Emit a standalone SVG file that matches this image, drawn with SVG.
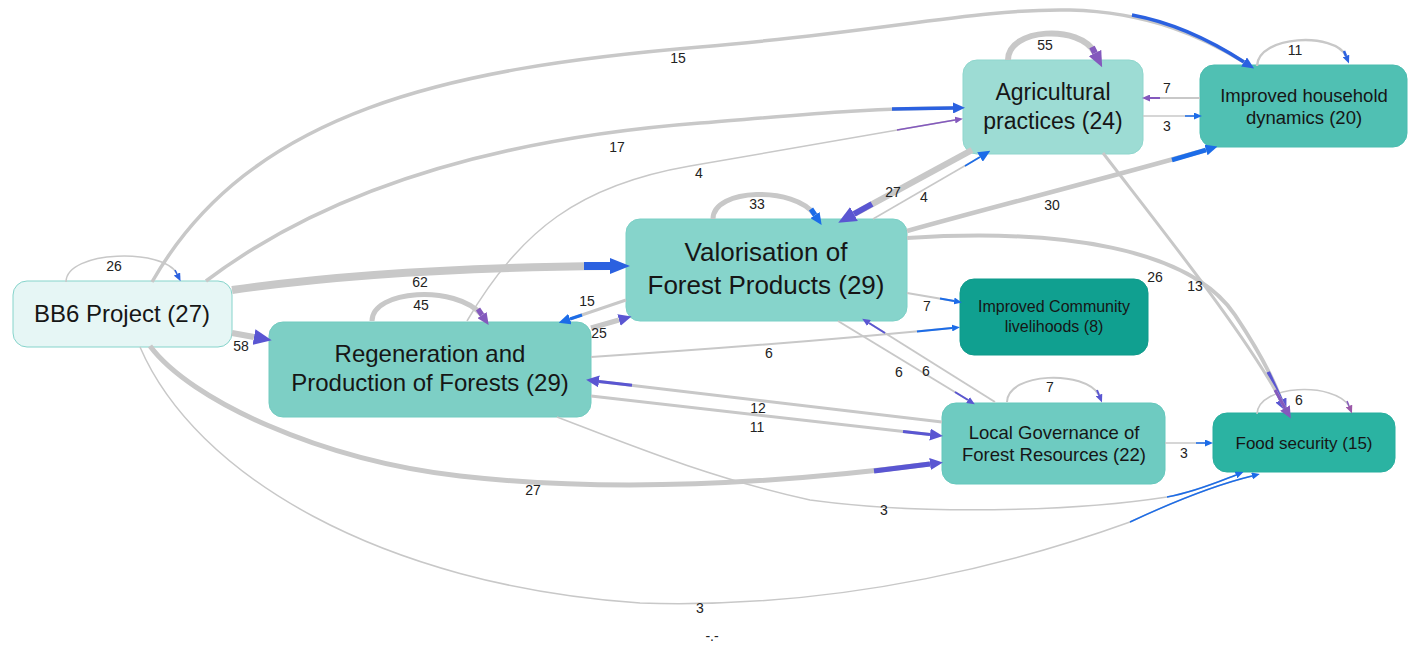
<svg xmlns="http://www.w3.org/2000/svg" width="1418" height="654" viewBox="0 0 1418 654">
<style>
.nt{font-family:"Liberation Sans",Arial,Helvetica,sans-serif;fill:#161616;text-anchor:middle}
.el{font-family:"Liberation Sans",Arial,Helvetica,sans-serif;font-size:14px;fill:#222;text-anchor:middle}
.e{fill:none;stroke:#c8c8c8;stroke-linecap:butt}
.b{fill:none;stroke:#2b61e0}
.c{fill:none;stroke:#1c6ce8}
.i{fill:none;stroke:#5a56d2}
.p{fill:none;stroke:#8459bd}
</style>
<defs>
<marker id="bS" viewBox="0 0 10 10" refX="0" refY="5" markerWidth="8" markerHeight="7" markerUnits="userSpaceOnUse" orient="auto" preserveAspectRatio="none"><path d="M0,0L10,5L0,10z" fill="#2b61e0"/></marker>
<marker id="bM" viewBox="0 0 10 10" refX="0" refY="5" markerWidth="12" markerHeight="11" markerUnits="userSpaceOnUse" orient="auto" preserveAspectRatio="none"><path d="M0,0L10,5L0,10z" fill="#2b61e0"/></marker>
<marker id="bL" viewBox="0 0 10 10" refX="0" refY="5" markerWidth="20" markerHeight="16" markerUnits="userSpaceOnUse" orient="auto" preserveAspectRatio="none"><path d="M0,0L10,5L0,10z" fill="#2b61e0"/></marker>
<marker id="cS" viewBox="0 0 10 10" refX="0" refY="5" markerWidth="8" markerHeight="7" markerUnits="userSpaceOnUse" orient="auto" preserveAspectRatio="none"><path d="M0,0L10,5L0,10z" fill="#1c6ce8"/></marker>
<marker id="cM" viewBox="0 0 10 10" refX="0" refY="5" markerWidth="12" markerHeight="11" markerUnits="userSpaceOnUse" orient="auto" preserveAspectRatio="none"><path d="M0,0L10,5L0,10z" fill="#1c6ce8"/></marker>
<marker id="iS" viewBox="0 0 10 10" refX="0" refY="5" markerWidth="8" markerHeight="7" markerUnits="userSpaceOnUse" orient="auto" preserveAspectRatio="none"><path d="M0,0L10,5L0,10z" fill="#5a56d2"/></marker>
<marker id="iM" viewBox="0 0 10 10" refX="0" refY="5" markerWidth="13" markerHeight="12" markerUnits="userSpaceOnUse" orient="auto" preserveAspectRatio="none"><path d="M0,0L10,5L0,10z" fill="#5a56d2"/></marker>
<marker id="iL" viewBox="0 0 10 10" refX="0" refY="5" markerWidth="18" markerHeight="16" markerUnits="userSpaceOnUse" orient="auto" preserveAspectRatio="none"><path d="M0,0L10,5L0,10z" fill="#5a56d2"/></marker>
<marker id="pS" viewBox="0 0 10 10" refX="0" refY="5" markerWidth="8" markerHeight="7" markerUnits="userSpaceOnUse" orient="auto" preserveAspectRatio="none"><path d="M0,0L10,5L0,10z" fill="#8459bd"/></marker>
<marker id="pM" viewBox="0 0 10 10" refX="0" refY="5" markerWidth="12" markerHeight="11" markerUnits="userSpaceOnUse" orient="auto" preserveAspectRatio="none"><path d="M0,0L10,5L0,10z" fill="#8459bd"/></marker>
<marker id="pL" viewBox="0 0 10 10" refX="0" refY="5" markerWidth="16" markerHeight="14" markerUnits="userSpaceOnUse" orient="auto" preserveAspectRatio="none"><path d="M0,0L10,5L0,10z" fill="#8459bd"/></marker>
<marker id="mS" viewBox="0 0 10 10" refX="0" refY="5" markerWidth="8" markerHeight="7" markerUnits="userSpaceOnUse" orient="auto" preserveAspectRatio="none"><path d="M0,0L10,5L0,10z" fill="#9b58a8"/></marker>
</defs>
<rect width="1418" height="654" fill="#ffffff"/>

<g id="node-bb6">
<rect x="13" y="281" width="219" height="66" rx="14" fill="#e6f6f5" stroke="#86d4cb"/>
<text class="nt" x="122" y="322" font-size="24">BB6 Project (27)</text>
</g>
<g id="node-regeneration">
<rect x="269" y="322" width="322" height="95" rx="14" fill="#7dcfc5" stroke="#72cbc0"/>
<text class="nt" x="430" y="362" font-size="24">Regeneration and</text>
<text class="nt" x="430" y="391" font-size="24">Production of Forests (29)</text>
</g>
<g id="node-valorisation">
<rect x="626" y="219" width="281" height="102" rx="14" fill="#86d4cb" stroke="#7bd0c6"/>
<text class="nt" x="766" y="261" font-size="26">Valorisation of</text>
<text class="nt" x="766" y="294" font-size="26">Forest Products (29)</text>
</g>
<g id="node-agricultural">
<rect x="963" y="60" width="180" height="94" rx="14" fill="#9ddcd4" stroke="#8fd6cd"/>
<text class="nt" x="1053" y="100" font-size="23">Agricultural</text>
<text class="nt" x="1053" y="129" font-size="23">practices (24)</text>
</g>
<g id="node-household">
<rect x="1200" y="65" width="207" height="82" rx="14" fill="#50c0b3" stroke="#4abcaf"/>
<text class="nt" x="1304" y="102" font-size="18.5">Improved household</text>
<text class="nt" x="1304" y="124" font-size="18.5">dynamics (20)</text>
</g>
<g id="node-community">
<rect x="960" y="279" width="188" height="76" rx="14" fill="#10a090" stroke="#0f9a8b"/>
<text class="nt" x="1054" y="312" font-size="16">Improved Community</text>
<text class="nt" x="1054" y="332" font-size="16">livelihoods (8)</text>
</g>
<g id="node-governance">
<rect x="942" y="403" width="223" height="81" rx="14" fill="#6ecbc1" stroke="#64c7bc"/>
<text class="nt" x="1054" y="439" font-size="18.5">Local Governance of</text>
<text class="nt" x="1054" y="461" font-size="18.5">Forest Resources (22)</text>
</g>
<g id="node-food">
<rect x="1213" y="413" width="182" height="59" rx="14" fill="#2bb3a2" stroke="#27ae9e"/>
<text class="nt" x="1304" y="449" font-size="17">Food security (15)</text>
</g>

<g id="connectors">
<!-- BB6 self 26 -->
<path class="e" stroke-width="1.5" d="M66,282 C66,250 165,248 177,274"/>
<path class="b" stroke-width="1.5" d="M175,270 L177,274" marker-end="url(#bS)"/>
<text class="el" x="114" y="271">26</text>
<!-- BB6 -> household 15 -->
<path class="e" stroke-width="3.5" d="M152,282 C250,110 450,68 700,47 C880,32 980,8 1070,10 C1150,12 1205,38 1244,62"/>
<path class="b" stroke-width="3.5" d="M1132,15 C1170,22 1210,40 1244,62" marker-end="url(#bM)"/>
<text class="el" x="678" y="63">15</text>
<!-- BB6 -> agricultural 17 -->
<path class="e" stroke-width="3.5" d="M206,281 C320,195 480,140 700,123 C800,115 870,108 953,108"/>
<path class="b" stroke-width="3.5" d="M892,109 L953,108" marker-end="url(#bM)"/>
<text class="el" x="617" y="152">17</text>
<!-- Regeneration -> agricultural 4 -->
<path class="e" stroke-width="1.5" d="M467,321 C520,230 580,185 690,166 C790,149 880,133 955,120"/>
<path class="p" stroke-width="1.5" d="M897,130 L955,120" marker-end="url(#pS)"/>
<text class="el" x="699" y="178">4</text>
<!-- BB6 -> valorisation 62 -->
<path class="e" stroke-width="8" d="M232,290 C350,273 480,267 610,266"/>
<path class="b" stroke-width="8" d="M584,266 L610,266" marker-end="url(#bL)"/>
<text class="el" x="420" y="287">62</text>
<!-- BB6 -> regeneration 58 -->
<path class="e" stroke-width="6" d="M232,333 L254,337" marker-end="url(#iL)"/>
<text class="el" x="241" y="351">58</text>
<!-- BB6 -> governance 27 -->
<path class="e" stroke-width="5" d="M150,346 C190,400 320,460 460,476 C620,494 790,482 930,464"/>
<path class="i" stroke-width="5" d="M874,471 L930,464" marker-end="url(#iM)"/>
<text class="el" x="533" y="495">27</text>
<!-- BB6 -> food 3 -->
<path class="e" stroke-width="1.5" d="M140,347 C195,475 380,585 640,603 C850,610 1030,558 1130,522 C1175,501 1215,485 1252,476"/>
<path class="c" stroke-width="1.5" d="M1130,522 C1175,501 1215,485 1252,476" marker-end="url(#cS)"/>
<text class="el" x="700" y="613">3</text>
<!-- Regeneration -> food 3 -->
<path class="e" stroke-width="1.5" d="M557,417 C630,445 710,478 810,500 C920,515 1070,512 1167,497 C1195,492 1218,482 1236,475"/>
<path class="c" stroke-width="1.5" d="M1167,497 C1195,492 1218,482 1236,475" marker-end="url(#cS)"/>
<text class="el" x="884" y="515">3</text>
<!-- Regeneration self 45 -->
<path class="e" stroke-width="5" d="M372,321 C372,290 455,284 482,315"/>
<path class="p" stroke-width="5" d="M478,309 L482,315" marker-end="url(#pM)"/>
<text class="el" x="421" y="310">45</text>
<!-- Valorisation self 33 -->
<path class="e" stroke-width="5" d="M713,219 C713,188 795,186 815,215"/>
<path class="c" stroke-width="5" d="M811,209 L815,215" marker-end="url(#cM)"/>
<text class="el" x="757" y="209">33</text>
<!-- Agricultural self 55 -->
<path class="e" stroke-width="6" d="M1008,60 C1008,28 1080,24 1095,53"/>
<path class="p" stroke-width="6" d="M1092,47 L1095,53" marker-end="url(#pL)"/>
<text class="el" x="1045" y="50">55</text>
<!-- Household self 11 -->
<path class="e" stroke-width="2.5" d="M1257,66 C1258,35 1335,32 1346,56"/>
<path class="b" stroke-width="2.5" d="M1344,51 L1346,56" marker-end="url(#bS)"/>
<text class="el" x="1295" y="55">11</text>
<!-- Governance self 7 -->
<path class="e" stroke-width="2" d="M1007,402 C1008,372 1085,370 1099,395"/>
<path class="i" stroke-width="2" d="M1097,390 L1099,395" marker-end="url(#iS)"/>
<text class="el" x="1050" y="392">7</text>
<!-- Food self 6 -->
<path class="e" stroke-width="1.5" d="M1257,414 C1258,384 1335,382 1349,406"/>
<path class="p" stroke-width="1.5" d="M1347,401 L1349,406" marker-end="url(#mS)"/>
<text class="el" x="1299" y="405">6</text>
<!-- Agricultural -> valorisation 27 -->
<path class="e" stroke-width="6" d="M972,150 L854,214"/>
<path class="i" stroke-width="6" d="M872,204 L854,214" marker-end="url(#iL)"/>
<text class="el" x="893" y="197">27</text>
<!-- Valorisation -> agricultural 4 -->
<path class="e" stroke-width="1.5" d="M873,219 L980,157"/>
<path class="c" stroke-width="1.5" d="M965,166 L980,157" marker-end="url(#cM)"/>
<text class="el" x="924" y="202">4</text>
<!-- Household -> agricultural 7 -->
<path class="e" stroke-width="2" d="M1200,98 L1150,98"/>
<path class="p" stroke-width="2" d="M1160,98 L1150,98" marker-end="url(#pS)"/>
<text class="el" x="1167" y="93">7</text>
<!-- Agricultural -> household 3 -->
<path class="e" stroke-width="1.5" d="M1143,116 L1194,116"/>
<path class="c" stroke-width="1.5" d="M1185,116 L1194,116" marker-end="url(#cS)"/>
<text class="el" x="1167" y="131">3</text>
<!-- Valorisation -> household 30 -->
<path class="e" stroke-width="4.5" d="M907,231 C1000,205 1100,180 1206,150"/>
<path class="c" stroke-width="4.5" d="M1172,160 L1206,150" marker-end="url(#cM)"/>
<text class="el" x="1052" y="210">30</text>
<!-- Valorisation -> food 26 -->
<path class="e" stroke-width="4" d="M907,238 C1060,228 1190,248 1235,315 C1255,345 1272,375 1281,400"/>
<path class="i" stroke-width="4" d="M1268,372 L1281,400" marker-end="url(#iM)"/>
<text class="el" x="1155" y="282">26</text>
<!-- Agricultural -> food 13 -->
<path class="e" stroke-width="3" d="M1103,153 C1170,240 1250,340 1285,408"/>
<path class="p" stroke-width="3" d="M1275,390 L1285,408" marker-end="url(#pM)"/>
<text class="el" x="1195" y="291">13</text>
<!-- Valorisation -> community 7 -->
<path class="e" stroke-width="2" d="M907,293 L954,301"/>
<path class="c" stroke-width="2" d="M940,298.5 L954,301" marker-end="url(#cS)"/>
<text class="el" x="927" y="311">7</text>
<!-- Regeneration -> community 6 -->
<path class="e" stroke-width="2" d="M591,357 C700,350 850,338 952,328"/>
<path class="c" stroke-width="2" d="M917,331.5 L952,328" marker-end="url(#cS)"/>
<text class="el" x="769" y="358">6</text>
<!-- Valorisation -> regeneration 15 -->
<path class="e" stroke-width="3" d="M626,300 L570,319"/>
<path class="c" stroke-width="3" d="M582,315 L570,319" marker-end="url(#cM)"/>
<text class="el" x="587" y="306">15</text>
<!-- Regeneration -> valorisation 25 -->
<path class="e" stroke-width="5" d="M591,328 L619,320" marker-end="url(#iM)"/>
<text class="el" x="599" y="338">25</text>
<!-- Valorisation -> governance 6 -->
<path class="e" stroke-width="2" d="M838,321 L968,400"/>
<path class="i" stroke-width="2" d="M955,392 L968,400" marker-end="url(#iS)"/>
<text class="el" x="899" y="377">6</text>
<!-- Governance -> valorisation 6 -->
<path class="e" stroke-width="2" d="M995,402 L869,323"/>
<path class="i" stroke-width="2" d="M885,333 L869,323" marker-end="url(#iS)"/>
<text class="el" x="926" y="376">6</text>
<!-- Governance -> regeneration 12 -->
<path class="e" stroke-width="3" d="M942,422 L599,381.4"/>
<path class="i" stroke-width="3" d="M632,385.3 L599,381.4" marker-end="url(#iM)"/>
<text class="el" x="758" y="413">12</text>
<!-- Regeneration -> governance 11 -->
<path class="e" stroke-width="3" d="M591,396 L930,434.6"/>
<path class="i" stroke-width="3" d="M903,431.5 L930,434.6" marker-end="url(#iM)"/>
<text class="el" x="757" y="432">11</text>
<!-- Governance -> food 3 -->
<path class="e" stroke-width="1.5" d="M1165,443 L1205,443"/>
<path class="c" stroke-width="1.5" d="M1196,443 L1205,443" marker-end="url(#cS)"/>
<text class="el" x="1184" y="458">3</text>
</g>
<text class="el" x="712" y="641">-.-</text>
</svg>
